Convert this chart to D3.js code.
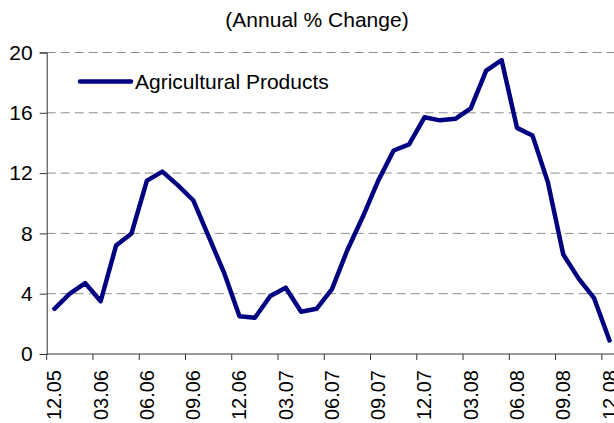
<!DOCTYPE html>
<html>
<head>
<meta charset="utf-8">
<script src="https://cdn.jsdelivr.net/npm/d3@7"></script>
<style>
  body { margin: 0; background: #fff; }
  text { font-family: "Liberation Sans", Arial, sans-serif; fill: #000; }
</style>
</head>
<body>
<div id="holder"></div>
<script>
var width = 614;
var height = 423;

// months Dec 2005 .. Dec 2008
var months = ["12.05","01.06","02.06","03.06","04.06","05.06","06.06","07.06","08.06","09.06","10.06","11.06",
  "12.06","01.07","02.07","03.07","04.07","05.07","06.07","07.07","08.07","09.07","10.07","11.07",
  "12.07","01.08","02.08","03.08","04.08","05.08","06.08","07.08","08.08","09.08","10.08","11.08","12.08"];
var agri = [3.0, 4.0, 4.7, 3.5, 7.2, 8.0, 11.5, 12.1, 11.2, 10.2, 7.8, 5.4,
  2.5, 2.4, 3.85, 4.4, 2.8, 3.0, 4.3, 6.9, 9.1, 11.5, 13.5, 13.9,
  15.7, 15.5, 15.6, 16.3, 18.8, 19.5, 15.0, 14.5, 11.4, 6.6, 5.0, 3.7, 0.9];
var yTicks = [0, 4, 8, 12, 16, 20];
var seriesName = "Agricultural Products";
var title = "(Annual % Change)";

var plotLeft = 46.7, plotTop = 52.5, plotBottom = 354;
var step = 15.42;

var svg = d3.select("#holder").append("svg")
  .attr("width", width)
  .attr("height", height);

var x = d3.scaleBand()
  .domain(months)
  .range([plotLeft, plotLeft + step * months.length])
  .paddingInner(0).paddingOuter(0);

var y = d3.scaleLinear()
  .domain([0, 20])
  .range([plotBottom, plotTop]);

// title
svg.append("text")
  .attr("x", 317)
  .attr("y", 27)
  .attr("text-anchor", "middle")
  .style("font-size", "21px")
  .text(title);

// gridlines
svg.append("g")
  .selectAll("line")
  .data(yTicks.filter(d => d > 0))
  .enter().append("line")
    .attr("x1", plotLeft)
    .attr("x2", width)
    .attr("y1", d => y(d))
    .attr("y2", d => y(d))
    .attr("stroke", "#8c8c8c")
    .attr("stroke-width", 1)
    .attr("stroke-dasharray", "9,5");

// y axis
var yAxis = d3.axisLeft(y)
  .tickValues(yTicks)
  .tickSize(7)
  .tickPadding(7)
  .tickFormat(d3.format("d"));
var gy = svg.append("g")
  .attr("transform", "translate(" + plotLeft + ",0)")
  .call(yAxis);
gy.select(".domain").attr("stroke", "#333");
gy.selectAll(".tick line").attr("stroke", "#333");
gy.selectAll("text")
  .style("font-size", "21px")
  .style("font-family", "'Liberation Sans', Arial, sans-serif")
  .attr("fill", "#000");

// x axis (ticks between categories, every 3 months)
var shown = months.filter((d, i) => i % 3 === 0);
var gx = svg.append("g")
  .attr("transform", "translate(0," + plotBottom + ")");
gx.append("line")
  .attr("x1", plotLeft)
  .attr("x2", width)
  .attr("stroke", "#333");
gx.selectAll(".xt")
  .data(shown)
  .enter().append("line")
    .attr("class", "xt")
    .attr("x1", d => x(d))
    .attr("x2", d => x(d))
    .attr("y1", 0)
    .attr("y2", 6)
    .attr("stroke", "#333");
gx.selectAll(".xl")
  .data(shown)
  .enter().append("text")
    .attr("class", "xl")
    .attr("transform", d => "translate(" + (x(d) + x.bandwidth() / 2 + 7) + ",16) rotate(-90)")
    .attr("text-anchor", "end")
    .style("font-size", "20px")
    .text(d => d);

// the series line
var line = d3.line()
  .x((d, i) => x(months[i]) + x.bandwidth() / 2)
  .y(d => y(d));

svg.append("path")
  .datum(agri)
  .attr("fill", "none")
  .attr("stroke", "#000080")
  .attr("stroke-width", 4.5)
  .attr("stroke-linejoin", "round")
  .attr("stroke-linecap", "round")
  .attr("d", line);

// legend
var lg = svg.append("g");
lg.append("line")
  .attr("x1", 80)
  .attr("x2", 131)
  .attr("y1", 81.5)
  .attr("y2", 81.5)
  .attr("stroke", "#000080")
  .attr("stroke-width", 4.5)
  .attr("stroke-linecap", "round");
lg.append("text")
  .attr("x", 135)
  .attr("y", 89)
  .style("font-size", "21px")
  .text(seriesName);
</script>
</body>
</html>
